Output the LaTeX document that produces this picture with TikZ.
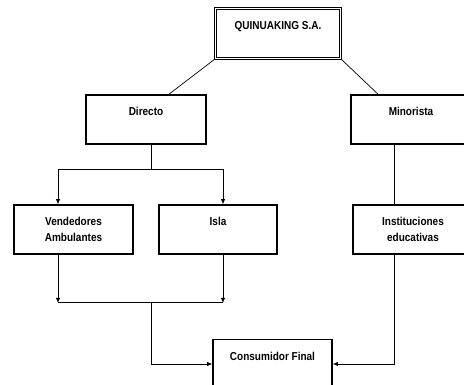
\documentclass[tikz,border=0pt]{standalone}
\usepackage{fontspec}
\setmainfont{Liberation Sans}[FakeStretch=0.87]
\usepackage{tikz}
\usetikzlibrary{arrows.meta}
\begin{document}
\begin{tikzpicture}[x=1pt,y=-1pt,line width=0.7pt,>={Latex[length=5pt,width=4.5pt]},
	caja/.style={draw,line width=1.6pt,minimum width=119pt,minimum height=49pt,inner sep=0pt,align=center,font=\fontsize{11.5}{16}\selectfont\bfseries}]
	\useasboundingbox (0,0) rectangle (464,385);
	\clip (0,0) rectangle (464,385);
	\node[caja,line width=0.8pt,double,double distance=1.5pt,minimum width=125pt,minimum height=50pt] at (278,33.5) (qui) {QUINUAKING S.A.\\~};
	\node[caja,minimum width=120pt] at (146,119.5) (dir) {Directo\\~};
	\node[caja,minimum width=120pt] at (411,119.5) (min) {Minorista\\~};
	\node[caja] at (73.5,229.5) (ven) {Vendedores\\Ambulantes};
	\node[caja,minimum width=118pt] at (218,229.5) (isl) {Isla\\~};
	\node[caja,minimum width=120pt] at (413,229.5) (ins) {Instituciones\\educativas};
	\node[caja] at (272.5,364) (con) {Consumidor Final\\~};
	\draw (qui.south west) -- ([xshift=23pt]dir.north);
	\draw (qui.south east) -- ([xshift=-33pt]min.north);
	\draw ([xshift=5pt]dir.south) -- ++(0,25) coordinate (d1);
	\draw[->] (d1) -| ([xshift=-15.5pt]ven.north);
	\draw[->] (d1) -| ([xshift=5pt]isl.north);
	\draw ([xshift=-17pt]min.south) -- ([xshift=-19pt]ins.north);
	\draw[->] ([xshift=-15.5pt]ven.south) -- ++(0,48) coordinate (v1);
	\draw[->] ([xshift=5pt]isl.south) -- ++(0,48) coordinate (v2);
	\draw (v1) -- (v2);
	\draw[->] (v1 -| d1) |- (con.west);
	\draw[->] ([xshift=-19pt]ins.south) |- (con.east);
\end{tikzpicture}
\end{document}
